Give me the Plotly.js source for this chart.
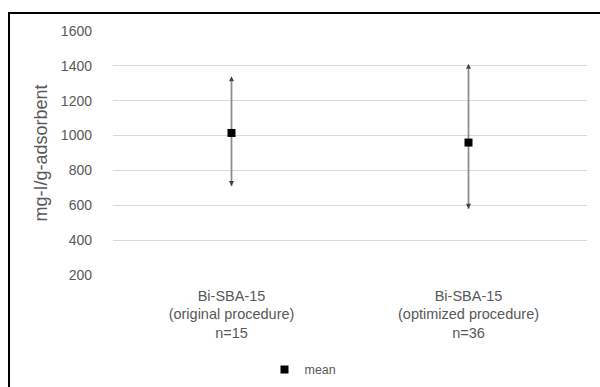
<!DOCTYPE html>
<html>
<head>
<meta charset="utf-8">
<script src="https://cdn.plot.ly/plotly-3.0.1.min.js"></script>
<style>
  html, body { margin: 0; padding: 0; background: #fff; }
  #wrap { position: relative; width: 600px; height: 387px; }
  #chart { width: 600px; height: 387px; }
  #frame { position: absolute; left: 8px; top: 12px; width: 600px; height: 400px;
           border-top: 2px solid #000; border-left: 2px solid #000; pointer-events: none; }
</style>
</head>
<body>
<div id="wrap">
  <div id="chart"></div>
  <div id="frame"></div>
</div>
<script>
const categories = ["Bi-SBA-15<br>(original procedure)<br>n=15", "Bi-SBA-15<br>(optimized procedure)<br>n=36"];
const means = [1015, 960];
const lows = [710, 580];
const highs = [1340, 1412];
const yTicks = [200, 400, 600, 800, 1000, 1200, 1400, 1600];

const font = "Liberation Sans, Arial, sans-serif";
const traces = [];
categories.forEach((c, i) => {
  traces.push({
    type: "scatter", mode: "lines+markers",
    x: [c, c], y: [lows[i], highs[i]],
    line: { color: "#8c8c8c", width: 1.75 },
    marker: { symbol: ["arrow-down", "arrow-up"], size: 5, color: "#404040", line: { width: 0 } },
    showlegend: false, hoverinfo: "skip", cliponaxis: false
  });
});
traces.push({
  type: "scatter", mode: "markers", name: "mean",
  x: categories, y: means,
  marker: { symbol: "square", size: 8, color: "#000" },
  cliponaxis: false
});

const layout = {
  width: 600, height: 387,
  margin: { l: 113, r: 13, t: 31, b: 112 },
  paper_bgcolor: "#fff", plot_bgcolor: "#fff",
  showlegend: true,
  legend: { orientation: "h", xref: "container", yref: "container", x: 0.505, xanchor: "center",
            y: 0.044, yanchor: "middle", font: { family: font, size: 12.5, color: "#595959" },
            itemwidth: 30, bgcolor: "rgba(0,0,0,0)" },
  xaxis: {
    type: "category", range: [-0.5, 1.5], showgrid: false, zeroline: false, showline: false,
    ticks: "", tickfont: { family: font, size: 14.5, color: "#595959" }, ticklabelstandoff: 10,
    fixedrange: true
  },
  yaxis: {
    range: [200, 1600], tickvals: yTicks, ticktext: yTicks.map(String),
    showgrid: true, gridcolor: "#d9d9d9", gridwidth: 1, zeroline: false, showline: false,
    ticks: "", tickfont: { family: font, size: 14, color: "#595959" }, ticklabelstandoff: 20,
    title: { text: "mg-I/g-adsorbent", font: { family: font, size: 18, color: "#595959" }, standoff: 8 },
    fixedrange: true
  }
};
Plotly.newPlot("chart", traces, layout, { displayModeBar: false, staticPlot: true });
</script>
</body>
</html>
